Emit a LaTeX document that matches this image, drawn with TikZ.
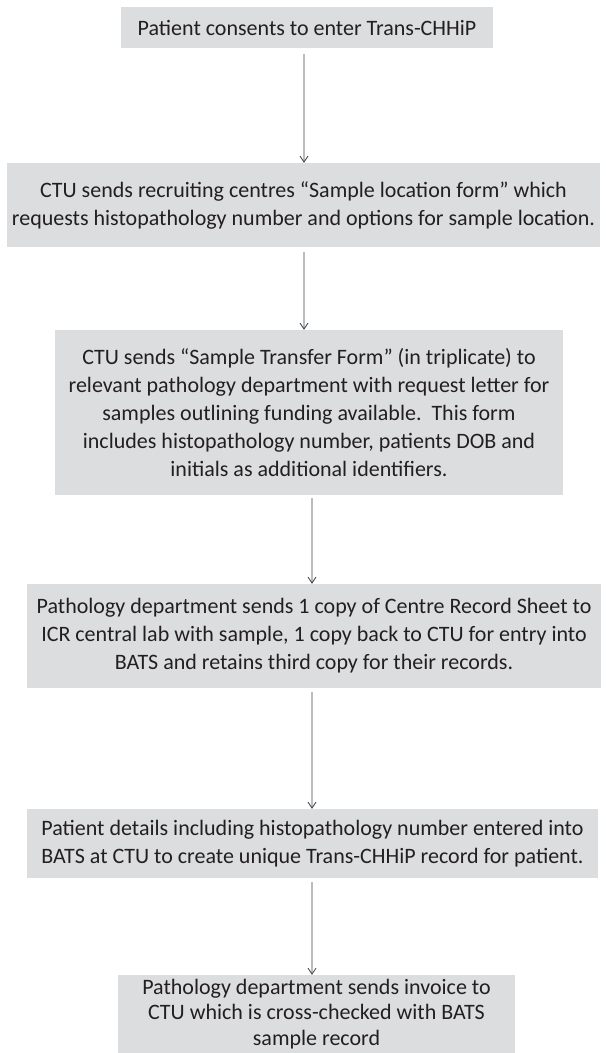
\documentclass[tikz,border=0pt]{standalone}
\usepackage{fontspec}
\setmainfont{Carlito}
\usetikzlibrary{arrows.meta}
\definecolor{boxgray}{HTML}{DCDDDE}
\definecolor{txtcol}{HTML}{231F20}
\definecolor{arrowgray}{HTML}{404040}
\begin{document}
\begin{tikzpicture}[x=1bp,y=-1bp,
  box/.style={fill=boxgray, text=txtcol, align=center, inner sep=0pt,
    font=\fontsize{22bp}{28bp}\selectfont},
  conn/.style={draw=arrowgray, line width=0.8bp, -{Straight Barb[length=6bp,width=8bp]}}]
\useasboundingbox (0,0) rectangle (606,1053);
\node[box, minimum width=372bp, minimum height=41bp] (b1) at (307,27.5)
  {Patient consents to enter Trans-CHHiP};
\node[box, minimum width=593bp, minimum height=84bp] (b2) at (303.5,205)
  {CTU sends recruiting centres “Sample location form” which\\requests histopathology number and options for sample location.};
\node[box, minimum width=508bp, minimum height=165bp] (b3) at (309,412.5)
  {CTU sends “Sample Transfer Form” (in triplicate) to\\relevant pathology department with request letter for\\samples outlining funding available.\ \ This form\\includes histopathology number, patients DOB and\\initials as additional identifiers.};
\node[box, minimum width=574bp, minimum height=104bp] (b4) at (314,636)
  {Pathology department sends 1 copy of Centre Record Sheet to\\ICR central lab with sample, 1 copy back to CTU for entry into\\BATS and retains third copy for their records.};
\node[box, minimum width=571bp, minimum height=69bp] (b5) at (312.5,843.5)
  {Patient details including histopathology number entered into\\BATS at CTU to create unique Trans-CHHiP record for patient.};
\node[box, minimum width=397bp, minimum height=78bp, font=\fontsize{22bp}{25.5bp}\selectfont] (b6) at (316.5,1014)
  {Pathology department sends invoice to\\CTU which is cross-checked with BATS\\sample record};
\draw[conn] ([xshift=-3bp,yshift=-6bp]b1.south) -- ([xshift=0.5bp]b2.north);
\draw[conn] ([xshift=0.5bp,yshift=-5bp]b2.south) -- ([xshift=-5bp]b3.north);
\draw[conn] ([xshift=3bp,yshift=-3bp]b3.south) -- ([xshift=-2bp]b4.north);
\draw[conn] ([xshift=-2bp,yshift=-4bp]b4.south) -- ([xshift=-0.5bp]b5.north);
\draw[conn] ([xshift=-0.5bp,yshift=-4bp]b5.south) -- ([xshift=-4.5bp]b6.north);
\end{tikzpicture}
\end{document}
